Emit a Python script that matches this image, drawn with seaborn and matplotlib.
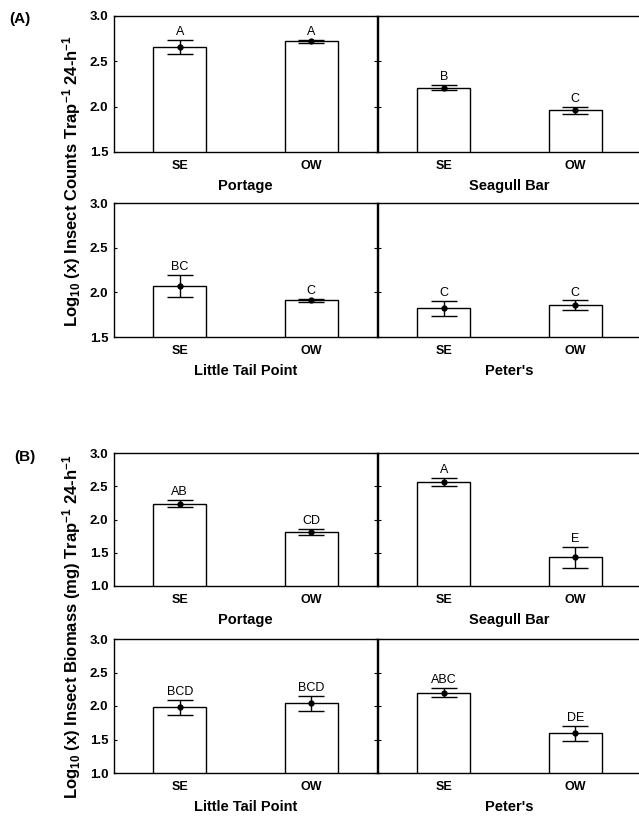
import numpy as np
import pandas as pd
import matplotlib
matplotlib.use('Agg')
import matplotlib.pyplot as plt
import seaborn as sns

# values (log10 scale), per site: SE then OW
sites = ['Portage', 'Seagull Bar', 'Little Tail Point', "Peter's"]
habitats = ['SE', 'OW']

count_se_mean = [2.66, 2.21, 2.07, 1.82]
count_ow_mean = [2.72, 1.96, 1.91, 1.855]
count_se_err = [0.08, 0.03, 0.12, 0.08]
count_ow_err = [0.02, 0.04, 0.02, 0.055]
count_se_letters = ['A', 'B', 'BC', 'C']
count_ow_letters = ['A', 'C', 'C', 'C']

mass_se_mean = [2.24, 2.56, 1.98, 2.20]
mass_ow_mean = [1.81, 1.43, 2.04, 1.59]
mass_se_err = [0.05, 0.06, 0.115, 0.065]
mass_ow_err = [0.045, 0.16, 0.11, 0.11]
mass_se_letters = ['AB', 'A', 'BCD', 'ABC']
mass_ow_letters = ['CD', 'E', 'BCD', 'DE']

sns.set_theme(style='white')
plt.rcParams['font.family'] = ['Liberation Sans', 'DejaVu Sans']
plt.rcParams['mathtext.fontset'] = 'custom'
plt.rcParams['mathtext.rm'] = 'Liberation Sans:bold'
plt.rcParams['mathtext.bf'] = 'Liberation Sans:bold'
plt.rcParams['mathtext.default'] = 'rm'
for key in ['text.color', 'axes.labelcolor', 'xtick.color', 'ytick.color', 'axes.edgecolor']:
    plt.rcParams[key] = 'black'

W, H = 639, 819
fig = plt.figure(figsize=(W / 100, H / 100), dpi=100)


def make_ax(x0, x1, y0, y1):
    return fig.add_axes([x0 / W, 1 - y1 / H, (x1 - x0) / W, (y1 - y0) / H])


def draw_panel(ax, site, means, errs, letters, ylim, yticks, left_col):
    df = pd.DataFrame({'habitat': habitats, 'value': means})
    sns.barplot(data=df, x='habitat', y='value', color='white', edgecolor='black',
                linewidth=1.0, width=0.4, errorbar=None, ax=ax, bottom=0)
    ax.errorbar([0, 1], means, yerr=errs, fmt='o', color='black', ms=3.5,
                elinewidth=1.0, capsize=9.5, capthick=1.0)
    for i in range(2):
        ax.annotate(letters[i], (i, means[i] + errs[i]), xytext=(0, 3.5),
                    textcoords='offset points', ha='center', va='baseline',
                    fontsize=9, color='black')
    ax.set_xlim(-0.5, 1.5)
    ax.set_ylim(*ylim)
    ax.set_yticks(yticks)
    ax.set_xlabel(site, fontsize=10.5, fontweight='bold', labelpad=5)
    ax.set_ylabel('')
    ax.tick_params(axis='y', direction='in', length=2.5, left=True, right=left_col,
                   labelleft=left_col, pad=4, labelsize=9.5, width=0.8)
    ax.tick_params(axis='x', length=0, pad=6, labelsize=9)
    for lab in ax.get_xticklabels() + ax.get_yticklabels():
        lab.set_fontweight('bold')
    ax.yaxis.set_major_formatter(matplotlib.ticker.FormatStrFormatter('%.1f'))
    for s in ax.spines.values():
        s.set_color('black')
        s.set_linewidth(1.0)
    ax.spines['right'].set_visible(left_col)


rows = [(16, 152), (203, 337), (453, 586), (639, 773)]
cols = [(114, 377), (378, 641)]

for block, (se_m, ow_m, se_e, ow_e, se_l, ow_l, ylim, yticks) in enumerate([
        (count_se_mean, count_ow_mean, count_se_err, count_ow_err,
         count_se_letters, count_ow_letters, (1.5, 3.0), [1.5, 2.0, 2.5, 3.0]),
        (mass_se_mean, mass_ow_mean, mass_se_err, mass_ow_err,
         mass_se_letters, mass_ow_letters, (1.0, 3.0), [1.0, 1.5, 2.0, 2.5, 3.0])]):
    for k in range(4):
        r, c = divmod(k, 2)
        y0, y1 = rows[block * 2 + r]
        x0, x1 = cols[c]
        ax = make_ax(x0, x1, y0, y1)
        draw_panel(ax, sites[k], [se_m[k], ow_m[k]], [se_e[k], ow_e[k]],
                   [se_l[k], ow_l[k]], ylim, yticks, c == 0)

fig.text(72 / W, 1 - 181 / H,
         r'Log$_{10}$ (x) Insect Counts Trap$^{-1}$ 24-h$^{-1}$',
         rotation=90, ha='center', va='center', fontsize=12, fontweight='bold')
fig.text(72 / W, 1 - 627 / H,
         r'Log$_{10}$ (x) Insect Biomass (mg) Trap$^{-1}$ 24-h$^{-1}$',
         rotation=90, ha='center', va='center', fontsize=12, fontweight='bold')
fig.text(9 / W, 1 - 19 / H, '(A)', ha='left', va='center', fontsize=11, fontweight='bold')
fig.text(14 / W, 1 - 457 / H, '(B)', ha='left', va='center', fontsize=11, fontweight='bold')

fig.savefig('out.png', dpi=100, facecolor='white')
